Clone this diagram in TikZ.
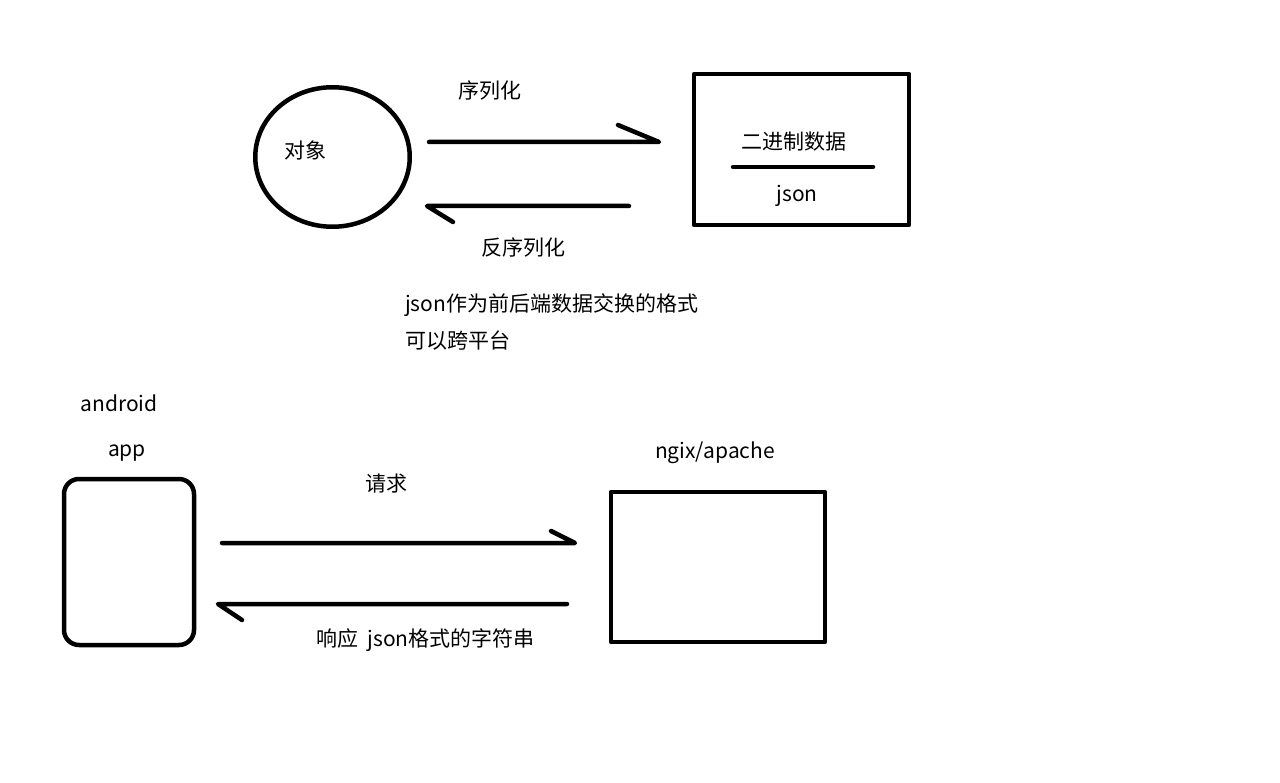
\documentclass[tikz,border=0pt]{standalone}
\usepackage{fontspec}
\setmainfont{Noto Sans CJK SC}
\usetikzlibrary{shapes.geometric}
\begin{document}
\begin{tikzpicture}[x=1pt,y=-1pt,
  pen/.style={line width=4.5pt, line cap=round, line join=round},
  txt/.style={font=\fontsize{21}{25}\selectfont, inner sep=0pt},
  shapebox/.style={pen, draw, inner sep=0pt}]
\useasboundingbox (0,0) rectangle (1280,783);
\fill[white] (0,0) rectangle (1280,783);

% --- serialisation ---
\node[shapebox, ellipse, minimum width=154.5pt, minimum height=139.5pt] (obj) at (332.5,157) {};
\node[txt] (objtext) at (305,150) {对象};
\node[shapebox, rectangle, minimum width=215pt, minimum height=151pt] (data) at (801.5,149.5) {};
\coordinate (divl) at (733,167);
\coordinate (divr) at (873,167);
\draw[pen] (divl) -- (divr);
\node[txt] (bin) at (794,142) {二进制数据};
\node[txt] (json) at (797,196) {json};

\coordinate (s1) at (429,142);
\coordinate (s2) at (659,142);
\draw[pen] (s1) -- (s2) -- ++(-41,-17);
\node[txt] (ser) at (490,91) {序列化};

\coordinate (d1) at (629,206);
\coordinate (d2) at (427,206);
\draw[pen] (d1) -- (d2) -- ++(26,16);
\node[txt] (deser) at (523,248) {反序列化};

\node[txt, anchor=west] (note1) at (405,305) {json作为前后端数据交换的格式};
\node[txt, anchor=west] (note2) at (405,341) {可以跨平台};

% --- client / server ---
\node[txt] (android) at (119,403) {android};
\node[txt] (app) at (127,453) {app};
\node[shapebox, rectangle, rounded corners=15pt, minimum width=130pt, minimum height=166pt] (phone) at (129,562) {};

\node[txt] (srvname) at (715,453) {ngix/apache};
\node[shapebox, rectangle, minimum width=214pt, minimum height=150pt] (server) at (718,567) {};

\coordinate (q1) at (222,543);
\coordinate (q2) at (575,543);
\draw[pen] (q1) -- (q2) -- ++(-24,-12);
\node[txt] (req) at (386,484) {请求};

\coordinate (r1) at (567,604);
\coordinate (r2) at (218,604);
\draw[pen] (r1) -- (r2) -- ++(24,16);
\node[txt, anchor=west] (resp) at (316,640) {响应\ \ json格式的字符串};
\end{tikzpicture}
\end{document}
